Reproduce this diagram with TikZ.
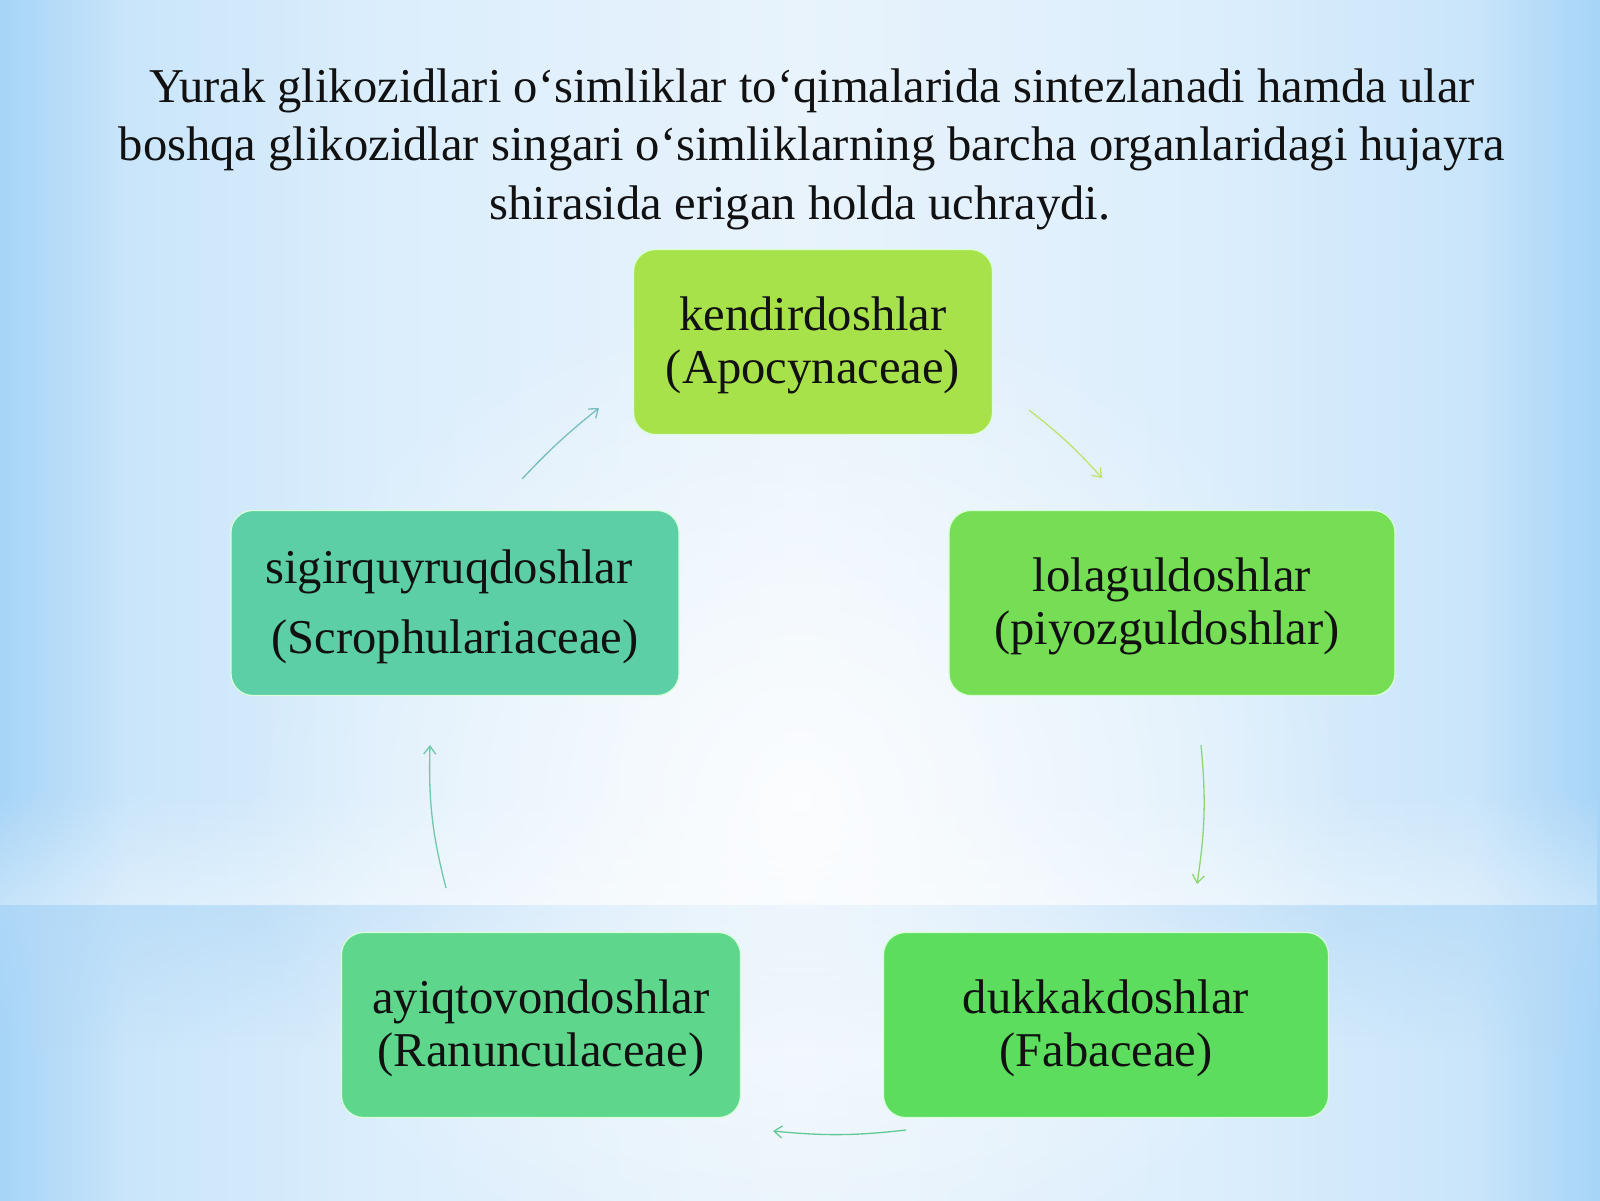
\documentclass[tikz,border=0pt]{standalone}
\usepackage{fontspec}
\setmainfont{Liberation Serif}
\usetikzlibrary{arrows.meta,shadings,fadings}
\definecolor{bgedge}{HTML}{A6D4F7}
\definecolor{bgmid}{HTML}{E8F3FC}
\definecolor{bgband}{HTML}{B3D9F7}
\definecolor{cTop}{HTML}{A8E24A}
\definecolor{cRight}{HTML}{76DE55}
\definecolor{cBR}{HTML}{5CDD5E}
\definecolor{cBL}{HTML}{5ED68C}
\definecolor{cLeft}{HTML}{5DCFA6}
\definecolor{txt}{HTML}{111111}
\pgfdeclarehorizontalshading{skyshade}{100bp}{
  color(0bp)=(bgedge); color(25bp)=(bgedge); color(29bp)=(bgedge!60!white);
  color(37bp)=(bgedge!40!white); color(50bp)=(bgmid); color(63bp)=(bgedge!40!white);
  color(71bp)=(bgedge!60!white); color(75bp)=(bgedge); color(100bp)=(bgedge)}
\tikzfading[name=glowfade, inner color=transparent!0, outer color=transparent!100]
\tikzfading[name=downfade, top color=transparent!40, bottom color=transparent!100]
\tikzfading[name=upfade, top color=transparent!100, bottom color=transparent!50]
\newcommand{\tallstrut}{\rule{0pt}{41pt}}
\tikzset{
  famBox/.style={rounded corners=22pt, draw=white!85!green, line width=1.2pt,
    minimum height=185pt, align=center, text=txt,
    font=\fontsize{48.6}{53}\selectfont, inner sep=0pt},
  cyc/.style={line width=1.3pt, -{Straight Barb[length=8pt,width=12pt]}}
}
\begin{document}
\begin{tikzpicture}[x=1pt,y=-1pt]
\useasboundingbox (0,0) rectangle (1600,1200);
% background
\shade[shading=skyshade] (0,0) rectangle (1600,1200);
\fill[bgband, path fading=downfade, fit fading=true] (0,905) rectangle (1600,1050);
\fill[white, path fading=upfade, fit fading=true, opacity=0.7] (0,790) rectangle (1600,905);
\fill[white, path fading=glowfade, fit fading=true, opacity=0.85] (800,800) ellipse (560pt and 520pt);
% title
\node[align=center, text=txt, font=\fontsize{48.6}{58.5}\selectfont] (title) at (812,149)
 {Yurak glikozidlari o‘simliklar to‘qimalarida sintezlanadi hamda ular\\
  boshqa glikozidlar singari o‘simliklarning barcha organlaridagi hujayra\\
  shirasida erigan holda uchraydi.\hspace*{24pt}};
% boxes
\node[famBox, fill=cTop, minimum width=359pt] (top) at (813,342)
 {\tallstrut kendirdoshlar\\(Apocynaceae)};
\node[famBox, fill=cRight, minimum width=446pt] (right) at (1172,603)
 {\tallstrut lolaguldoshlar\\(piyozguldoshlar)\hspace*{10pt}};
\node[famBox, fill=cBR, minimum width=445pt] (br) at (1106,1025)
 {\tallstrut dukkakdoshlar\\(Fabaceae)};
\node[famBox, fill=cBL, minimum width=399pt] (bl) at (541,1025)
 {\tallstrut ayiqtovondoshlar\\(Ranunculaceae)};
\node[famBox, fill=cLeft, minimum width=448pt] (left) at (455,603)
 {\tallstrut sigirquyruqdoshlar\hspace*{12pt}\\[17pt](Scrophulariaceae)};
% connector end points
\coordinate (a1s) at (1029,410); \coordinate (a1e) at (1102,478);
\coordinate (a2s) at (1201,745); \coordinate (a2e) at (1197,884);
\coordinate (a3s) at (906,1130); \coordinate (a3e) at (773,1131);
\coordinate (a4s) at (446,888);  \coordinate (a4e) at (430,745);
\coordinate (a5s) at (522,479);  \coordinate (a5e) at (599,408);
\draw[cyc, draw={rgb,255:red,190;green,228;blue,110}] (a1s) to[bend left=5] (a1e);
\draw[cyc, draw={rgb,255:red,140;green,214;blue,112}] (a2s) to[bend left=7] (a2e);
\draw[cyc, draw={rgb,255:red,100;green,200;blue,150}] (a3s) to[bend left=6] (a3e);
\draw[cyc, draw={rgb,255:red,110;green,200;blue,170}] (a4s) to[bend left=8] (a4e);
\draw[cyc, draw={rgb,255:red,120;green,190;blue,190}] (a5s) to[bend left=4] (a5e);
\end{tikzpicture}
\end{document}
